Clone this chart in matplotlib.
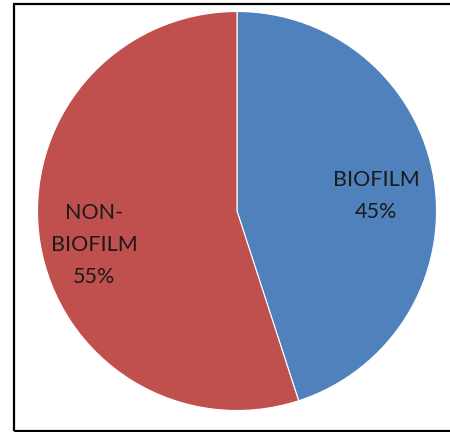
import matplotlib
matplotlib.use("Agg")
import matplotlib.pyplot as plt
from matplotlib.patches import Rectangle

categories = ["BIOFILM", "NON-\nBIOFILM"]
shares = [45, 55]
colors = ["#4F81BD", "#C0504D"]

W, H = 450, 432
fig = plt.figure(figsize=(W / 100, H / 100), dpi=100)
ax = fig.add_axes([0, 0, 1, 1])

cx, cy, r = 237, H - 211, 199.5
wedges, _ = ax.pie(shares, colors=colors, startangle=90, counterclock=False,
                   center=(cx, cy), radius=r, frame=True,
                   wedgeprops=dict(edgecolor="white", linewidth=0.8))
ax.set_xlim(0, W)
ax.set_ylim(0, H)
ax.set_aspect("equal")
ax.axis("off")

# label positions inside each slice (pixels from top-left)
label_pos = [(376, 196), (94, 245)]
for name, val, (lx, ly) in zip(categories, shares, label_pos):
    ax.text(lx, H - ly, f"{name}\n{val}%", ha="center", va="center",
            fontsize=15.5, family="Lato", color="#1a1a1a", linespacing=1.75)

# outer frame
fig.patches.append(Rectangle((13.5 / W, 1.5 / H), 1.2, (428 - 1.5) / H,
                             transform=fig.transFigure, fill=False,
                             edgecolor="black", linewidth=1.6))

fig.savefig("out.png", dpi=100)
